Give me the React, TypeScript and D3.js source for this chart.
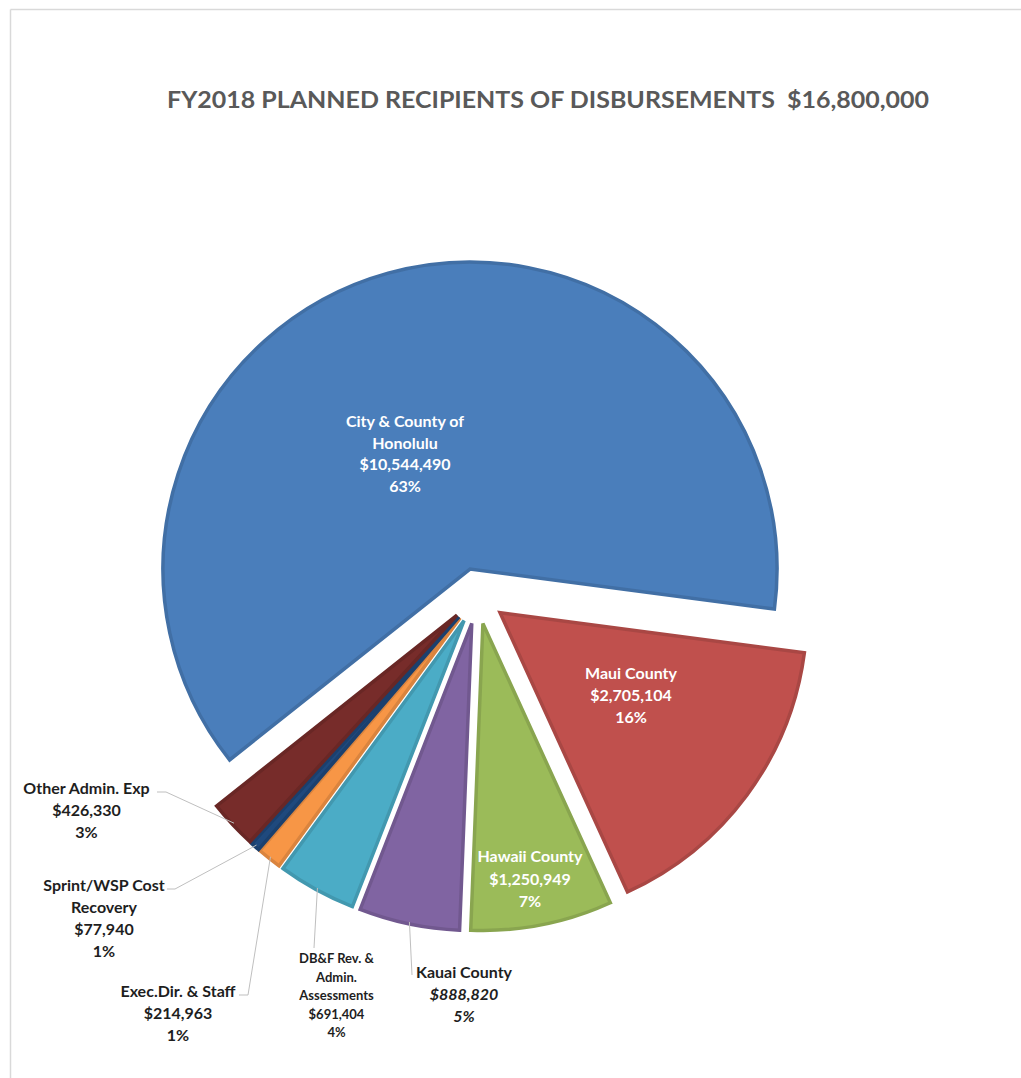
import React, { useEffect, useRef } from 'react';
import * as d3 from 'd3';

// chart data
const categories = [
  'City & County of Honolulu',
  'Maui County',
  'Hawaii County',
  'Kauai County',
  'DB&F Rev. & Admin. Assessments',
  'Exec.Dir. & Staff',
  'Sprint/WSP Cost Recovery',
  'Other Admin. Exp',
];
const amounts = [10544490, 2705104, 1250949, 888820, 691404, 214963, 77940, 426330];
const percentLabels = ['63%', '16%', '7%', '5%', '4%', '1%', '1%', '3%'];
const nameLines = [
  ['City & County of', 'Honolulu'],
  ['Maui County'],
  ['Hawaii County'],
  ['Kauai County'],
  ['DB&F Rev. &', 'Admin.', 'Assessments'],
  ['Exec.Dir. & Staff'],
  ['Sprint/WSP Cost', 'Recovery'],
  ['Other Admin. Exp'],
];
const sliceColors = ['#4a7ebb', '#c0504d', '#9bbb59', '#8064a2', '#4bacc6', '#f79646', '#1f497d', '#772c2a'];
const titleText = 'FY2018 PLANNED RECIPIENTS OF DISBURSEMENTS  $16,800,000';

// label placement (layout only)
const labelLayout = [
  { x: 405, y: 427, lh: 21.6, fs: 16, fill: '#fff', outside: false },
  { x: 631, y: 679, lh: 22, fs: 16, fill: '#fff', outside: false },
  { x: 530, y: 862, lh: 22.5, fs: 16, fill: '#fff', outside: false },
  { x: 464, y: 978, lh: 22, fs: 16, fill: '#1e1e1e', outside: true, leader: [[412, 975]] },
  { x: 336.5, y: 963, lh: 18.5, fs: 13, fill: '#1e1e1e', outside: true, leader: [[314, 948]] },
  { x: 178, y: 997, lh: 22, fs: 16, fill: '#1e1e1e', outside: true, leader: [[239, 995], [248, 995]] },
  { x: 104, y: 891, lh: 22, fs: 16, fill: '#1e1e1e', outside: true, leader: [[167, 889], [175, 889]] },
  { x: 86.5, y: 794, lh: 22, fs: 16, fill: '#1e1e1e', outside: true, leader: [[157, 792], [166, 792]] },
];

const App = () => {
  const chartRef = useRef<SVGSVGElement>(null);

  useEffect(() => {
    const width = 1021;
    const height = 1078;
    const cx = 477.5;
    const cy = 596;
    const radius = 307;
    const explode = 28;
    const font = "Lato, 'Open Sans', sans-serif";

    const svg = d3.select(chartRef.current);
    svg.selectAll('*').remove();
    svg.attr('width', width).attr('height', height);

    svg.append('rect').attr('width', width).attr('height', height).attr('fill', '#fff');
    svg.append('line').attr('x1', 10.5).attr('x2', width).attr('y1', 9.5).attr('y2', 9.5)
      .attr('stroke', '#d9d9d9').attr('stroke-width', 1.5);
    svg.append('line').attr('x1', 10.5).attr('x2', 10.5).attr('y1', 9.5).attr('y2', height)
      .attr('stroke', '#d9d9d9').attr('stroke-width', 1.5);

    svg.append('text')
      .attr('x', 548)
      .attr('y', 108)
      .attr('text-anchor', 'middle')
      .attr('font-family', font)
      .attr('font-weight', 700)
      .attr('font-size', 23)
      .attr('fill', '#595959')
      .attr('textLength', 762)
      .attr('lengthAdjust', 'spacingAndGlyphs')
      .style('white-space', 'pre')
      .text(titleText);

    const data = categories.map((c, i) => ({ name: c, value: amounts[i], i }));

    const startDeg = -128.45;
    const pie = d3.pie<any>()
      .value((d) => d.value)
      .sort(null)
      .startAngle((startDeg * Math.PI) / 180)
      .endAngle(((startDeg + 360) * Math.PI) / 180);

    const arc = d3.arc<any>().outerRadius(radius).innerRadius(0);
    const arcs = pie(data);

    const offset = (d: any, r: number) => {
      const a = (d.startAngle + d.endAngle) / 2;
      return [Math.sin(a) * r, -Math.cos(a) * r];
    };

    const g = svg.append('g').attr('transform', `translate(${cx},${cy})`);

    g.selectAll('.slice')
      .data(arcs)
      .enter()
      .append('path')
      .attr('class', 'slice')
      .attr('transform', (d) => {
        const [ox, oy] = offset(d, explode);
        return `translate(${ox},${oy})`;
      })
      .attr('d', arc)
      .attr('fill', (d) => sliceColors[d.data.i])
      .attr('stroke', (d) => d3.color(sliceColors[d.data.i])!.darker(0.35).toString())
      .attr('stroke-width', 3.5)
      .attr('stroke-linejoin', 'miter');

    // leader lines for outside labels
    arcs.forEach((d) => {
      const lay: any = labelLayout[d.data.i];
      if (!lay.outside) return;
      const [ex, ey] = offset(d, radius + explode - 2);
      const pts: [number, number][] = lay.leader.map((p: number[]) => [p[0], p[1]] as [number, number]);
      pts.push([cx + ex, cy + ey]);
      svg.append('path')
        .attr('d', d3.line()(pts))
        .attr('fill', 'none')
        .attr('stroke', '#bfbfbf')
        .attr('stroke-width', 1);
    });

    // data labels
    arcs.forEach((d) => {
      const i = d.data.i;
      const lay = labelLayout[i];
      const lines = [...nameLines[i], d3.format('$,')(amounts[i]), percentLabels[i]];
      const t = svg.append('text')
        .attr('text-anchor', 'middle')
        .attr('font-family', font)
        .attr('font-weight', 700)
        .attr('font-size', lay.fs)
        .attr('fill', lay.fill);
      lines.forEach((ln, k) => {
        const italic = i === 3 && k > 0;
        t.append('tspan')
          .attr('x', lay.x)
          .attr('y', lay.y + k * lay.lh)
          .attr('font-style', italic ? 'italic' : 'normal')
          .text(ln);
      });
    });
  }, []);

  return (
    <svg ref={chartRef} style={{ position: 'absolute', left: 0, top: 0, display: 'block' }} />
  );
};

export default App;
